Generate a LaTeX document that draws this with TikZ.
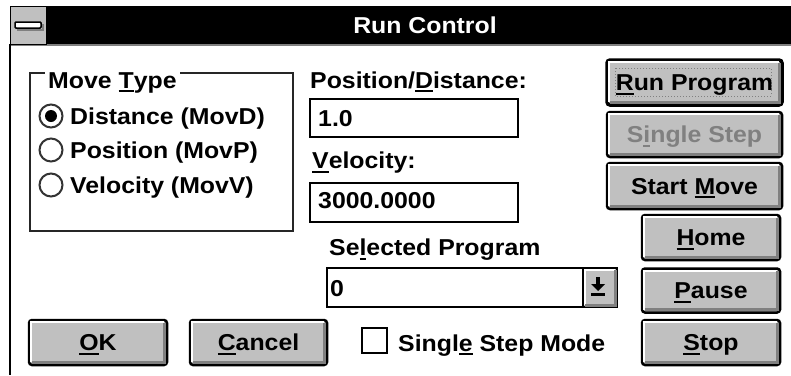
\documentclass[tikz,border=0pt]{standalone}
\usepackage{fontspec}
\setmainfont{Liberation Sans}[FakeStretch=1.08]
\definecolor{btngray}{HTML}{C0C0C0}
\definecolor{shadowgray}{HTML}{808080}
\newcommand\ukey[1]{\leavevmode\setbox0\hbox{#1}\rlap{\rule[-4pt]{\wd0}{2pt}}\box0\relax}
\newcommand\bevel[2]{%
  \draw[white, line width=2pt] ([shift={(#1pt,#1pt+0.5pt)}]#2.south west) -- ([shift={(#1pt,-#1pt)}]#2.north west) -- ([shift={(-#1pt-0.5pt,-#1pt)}]#2.north east);
  \draw[shadowgray, line width=3pt] ([shift={(#1pt+0.5pt,#1pt+0.5pt)}]#2.south west) -- ([shift={(-#1pt-0.5pt,#1pt+0.5pt)}]#2.south east) -- ([shift={(-#1pt-0.5pt,-#1pt-0.5pt)}]#2.north east);
}
\begin{document}
\begin{tikzpicture}[x=1pt,y=-1pt,
  ui/.style={font=\bfseries\fontsize{23}{27}\selectfont, inner sep=0pt},
  lbl/.style={ui, anchor=base west},
  btn/.style={ui, draw=black, line width=2.5pt, fill=btngray, rounded corners=3pt, text height=16pt, text depth=0pt},
  editbox/.style={draw=black, line width=2pt, fill=white, inner sep=0pt},
  radio/.style={circle, draw=black!80, line width=2pt, fill=white, minimum size=23pt, inner sep=0pt},
]
\useasboundingbox (0,0) rectangle (791,375);
\fill[white] (0,0) rectangle (791,375);

% title bar
\fill[black] (10,6) rectangle (791,44);
\draw[shadowgray, line width=1.5pt] (10,45) -- (791,45);
\node[fill=btngray, draw=black, line width=1pt, minimum width=36pt, minimum height=38pt, inner sep=0pt] (sysmenu) at (28,25) {};
\draw[shadowgray, line width=2pt] (17,30) -- (43,30) -- (43,24);
\draw[fill=white, draw=black, line width=1.5pt, rounded corners=1pt] (15,22) rectangle (41,28);
\node[ui, text=white, anchor=base] (title) at (425,33) {Run Control};

% window left border
\draw[black, line width=2pt] (10,44) -- (10,375);

% group box
\node[draw=black!85, line width=2pt, minimum width=263pt, minimum height=158pt, inner sep=0pt] (movegroup) at (161.5,152) {};
\node[lbl, fill=white, inner xsep=3pt] (movelbl) at (45,88) {Move \ukey{T}ype};

\node[radio] (rdist) at (51,116) {};
\fill (rdist.center) circle (6pt);
\node[radio] (rpos) at (51,150) {};
\node[radio] (rvel) at (51,185) {};
\node[lbl] (tdist) at (70,124.5) {Distance (MovD)};
\node[lbl] (tpos) at (70,158.5) {Position (MovP)};
\node[lbl] (tvel) at (70,193.5) {Velocity (MovV)};

% edit fields
\node[lbl] (poslbl) at (310,88) {Position/\ukey{D}istance:};
\node[editbox, minimum width=208pt, minimum height=38pt] (posbox) at (414,118) {};
\node[lbl] (posval) at (318,126.5) {1.0};
\node[lbl] (vellbl) at (312,168.5) {\ukey{V}elocity:};
\node[editbox, minimum width=208pt, minimum height=39pt] (velbox) at (414,202.5) {};
\node[lbl] (velval) at (318,208.5) {3000.0000};

% combo
\node[lbl] (proglbl) at (329,255.5) {Se\ukey{l}ected Program};
\node[editbox, minimum width=290pt, minimum height=39pt] (combo) at (472,287.5) {};
\node[lbl] (progval) at (330,296) {0};
\node[fill=btngray, draw=black, line width=2pt, minimum width=34pt, minimum height=39pt, inner sep=0pt] (drop) at (600,287.5) {};
\bevel{2.5}{drop}
\fill (596,277) rectangle (600,284);
\fill (591,284) -- (605,284) -- (598,291) -- cycle;
\fill (591,293) rectangle (605,295.5);

% right buttons
\node[btn, line width=3.5pt, minimum width=175pt, minimum height=45pt] (run) at (694.5,82.5) {\ukey{R}un Program};
\bevel{4}{run}
\draw[shadowgray, dotted, line width=1pt] (615,68) rectangle (771,96);
\node[btn, text=shadowgray, minimum width=175pt, minimum height=45pt] (single) at (694.5,134.5) {S\ukey{i}ngle Step};
\bevel{3.5}{single}
\node[btn, minimum width=175pt, minimum height=46pt] (start) at (694.5,186) {Start \ukey{M}ove};
\bevel{3.5}{start}
\node[btn, minimum width=138pt, minimum height=45pt] (home) at (711,237.5) {\ukey{H}ome};
\bevel{3.5}{home}
\node[btn, minimum width=138pt, minimum height=44pt] (pause) at (711,290.5) {\ukey{P}ause};
\bevel{3.5}{pause}
\node[btn, minimum width=138pt, minimum height=45pt] (stop) at (711,342.5) {\ukey{S}top};
\bevel{3.5}{stop}

% bottom buttons
\node[btn, minimum width=138pt, minimum height=45pt] (ok) at (98,342.5) {\ukey{O}K};
\bevel{3.5}{ok}
\node[btn, minimum width=137pt, minimum height=45pt] (cancel) at (258.5,342.5) {\ukey{C}ancel};
\bevel{3.5}{cancel}

% checkbox
\node[draw=black, line width=2pt, fill=white, minimum size=25pt, inner sep=0pt] (chk) at (374.5,340) {};
\node[lbl] (chklbl) at (398,351) {Singl\ukey{e} Step Mode};
\end{tikzpicture}
\end{document}
